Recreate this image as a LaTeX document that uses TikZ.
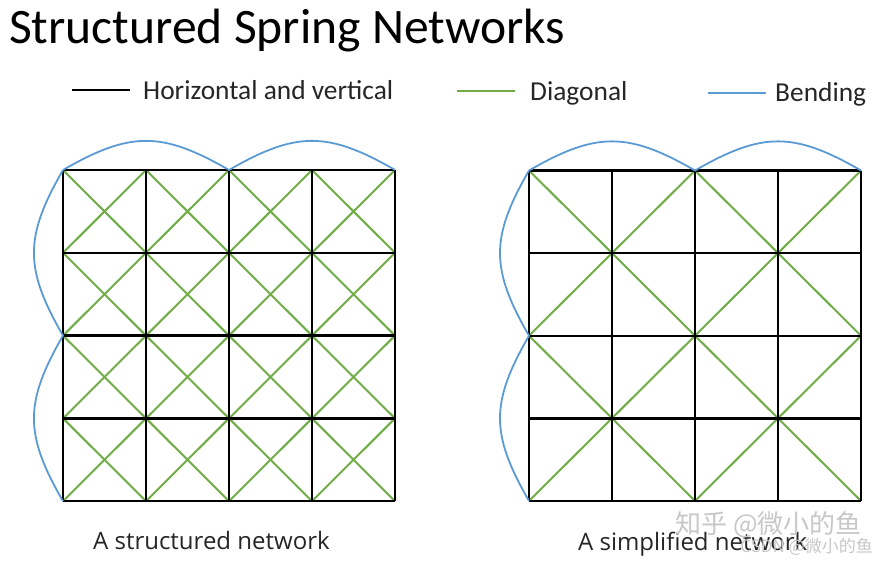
\documentclass[tikz,border=0pt]{standalone}
\usepackage{fontspec}
\setmainfont{Carlito}
\newfontfamily\capfont{Open Sans}
\newfontfamily\cjkfont{Noto Sans CJK SC}
\definecolor{diaggreen}{HTML}{70AD47}
\definecolor{bendblue}{HTML}{5B9BD5}
\definecolor{wmgray}{HTML}{C8C8C8}
\begin{document}
\begin{tikzpicture}[x=1pt,y=-1pt,
  gridline/.style={black, line width=2.4pt},
  diagline/.style={diaggreen, line width=2pt},
  bendline/.style={bendblue, line width=1.8pt},
  legendtext/.style={anchor=base west, inner sep=0pt, font=\fontsize{27.4}{30}\selectfont, text=black!85},
  captiontext/.style={anchor=base west, inner sep=0pt, font=\capfont\fontsize{24}{27}\selectfont, text=black!85},
  watermark/.style={inner sep=0pt, text=wmgray}]
\useasboundingbox (0,0) rectangle (891,562);
\fill[white] (0,0) rectangle (891,562);

% title
\node[anchor=base west, inner sep=0pt, font=\fontsize{49.6}{56}\selectfont] (title) at (9,43) {Structured Spring Networks};

% legend
\coordinate (hvA) at (72,90); \coordinate (hvB) at (130,90);
\draw[gridline, line width=2pt] (hvA) -- (hvB);
\node[legendtext] (hvlabel) at (143,99) {Horizontal and vertical};
\coordinate (dgA) at (457,91); \coordinate (dgB) at (515,91);
\draw[diagline] (dgA) -- (dgB);
\node[legendtext] (dglabel) at (530,100) {Diagonal};
\coordinate (bdA) at (708,93); \coordinate (bdB) at (766,93);
\draw[bendline] (bdA) -- (bdB);
\node[legendtext] (bdlabel) at (775,101) {Bending};

% grid points
\foreach \i in {0,...,4} {
  \foreach \j in {0,...,4} {
    \coordinate (L\i\j) at ({63+83*\i},{170+82.8*\j});
    \coordinate (R\i\j) at ({529+83*\i},{170.5+82.6*\j});
  }
}

% left network: diagonals in every cell
\foreach \i [evaluate=\i as \ii using int(\i+1)] in {0,...,3} {
  \foreach \j [evaluate=\j as \jj using int(\j+1)] in {0,...,3} {
    \draw[diagline] (L\i\j) -- (L\ii\jj);
    \draw[diagline] (L\ii\j) -- (L\i\jj);
  }
}
% right network: diagonals across 2x2 blocks
\foreach \i [evaluate=\i as \ii using int(\i+2)] in {0,2} {
  \foreach \j [evaluate=\j as \jj using int(\j+2)] in {0,2} {
    \draw[diagline] (R\i\j) -- (R\ii\jj);
    \draw[diagline] (R\ii\j) -- (R\i\jj);
  }
}

% horizontal and vertical springs
\foreach \k in {0,...,4} {
  \draw[gridline] (L0\k) -- (L4\k);
  \draw[gridline] (L\k0) -- (L\k4);
  \draw[gridline] (R0\k) -- (R4\k);
  \draw[gridline] (R\k0) -- (R\k4);
}

% bending springs
\foreach \n in {L,R} {
  \draw[bendline] (\n00) to[out=30,in=150,looseness=1.2] (\n20)
                         to[out=30,in=150,looseness=1.2] (\n40);
  \draw[bendline] (\n00) to[out=240,in=120,looseness=1.2] (\n02)
                         to[out=240,in=120,looseness=1.2] (\n04);
}

% captions
\node[captiontext] (capL) at (93,549) {A structured network};
\node[captiontext] (capR) at (578,550) {A simplified network};

% watermarks
\node[watermark, anchor=base west, font=\cjkfont\fontsize{26}{28}\selectfont] (wm1) at (675,533) {知乎 @微小的鱼};
\node[watermark, anchor=base east, font=\cjkfont\fontsize{17}{19}\selectfont] (wm2) at (873,552) {CSDN @微小的鱼};
\end{tikzpicture}
\end{document}
